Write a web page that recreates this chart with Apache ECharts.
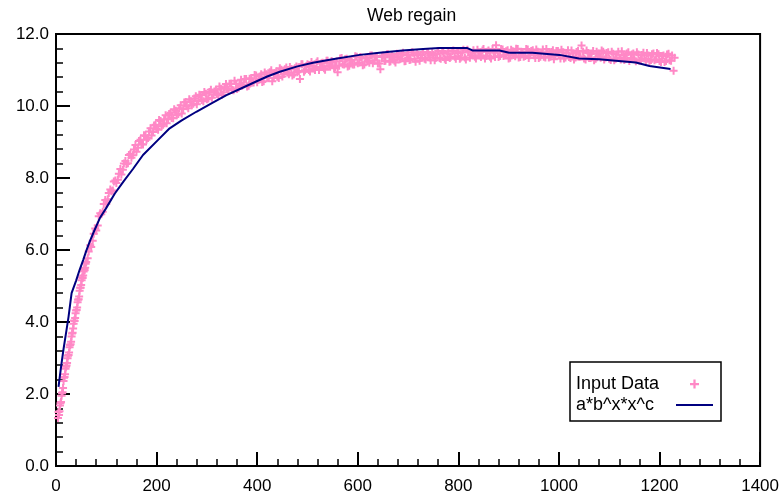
<!DOCTYPE html>
<html>
<head>
<meta charset="utf-8">
<script src="https://cdn.jsdelivr.net/npm/echarts@6/dist/echarts.min.js"></script>
<style>
  html, body { margin: 0; padding: 0; background: #fff; }
  #chart { width: 782px; height: 502px; }
</style>
</head>
<body>
<div id="chart"></div>
<script>
// Datos medidos (primera pasada)
const inputX = [
  4, 6, 8, 10, 12, 14, 16, 18, 20, 22, 24, 26, 28, 30, 32, 34, 36, 38, 40, 42, 44, 46, 48, 50, 52, 54, 56, 58, 60,
  65, 70, 75, 80, 85, 90, 95, 100, 105, 110, 115, 120, 125, 130, 135, 140, 145, 150, 155, 160, 165, 170, 175, 180,
  185, 190, 195, 200, 205, 210, 215, 220, 225, 230, 235, 240, 245, 250, 255, 260, 265, 270, 275, 280, 285, 290, 295, 300,
  305, 310, 315, 320, 325, 330, 335, 340, 345, 350,
  355, 360, 365, 370, 375, 380, 385, 390, 395, 400,
  405, 410, 415, 420, 425, 430, 435, 440, 445, 450,
  455, 460, 465, 470, 475, 480, 485, 490, 495, 500,
  505, 510, 515, 520, 525, 530, 535, 540, 545, 550,
  555, 560, 565, 570, 575, 580, 585, 590, 595, 600,
  605, 610, 615, 620, 625, 630, 635, 640, 645, 650,
  655, 660, 665, 670, 675, 680, 685, 690, 695, 700,
  705, 710, 715, 720, 725, 730, 735, 740, 745, 750,
  755, 760, 765, 770, 775, 780, 785, 790, 795, 800,
  805, 810, 815, 820, 825, 830, 835, 840, 845, 850,
  855, 860, 865, 870, 875, 880, 885, 890, 895, 900,
  905, 910, 915, 920, 925, 930, 935, 940, 945, 950,
  955, 960, 965, 970, 975, 980, 985, 990, 995, 1000,
  1005, 1010, 1015, 1020, 1025, 1030, 1035, 1040, 1045, 1050,
  1055, 1060, 1065, 1070, 1075, 1080, 1085, 1090, 1095, 1100,
  1105, 1110, 1115, 1120, 1125, 1130, 1135, 1140, 1145, 1150,
  1155, 1160, 1165, 1170, 1175, 1180, 1185, 1190, 1195, 1200,
  1205, 1210, 1215, 1220, 1225, 1228, 1230
];
const inputY = [
  1.33, 1.42, 1.68, 1.78, 2.02, 2.17, 2.45, 2.55, 2.76, 2.86, 3.06, 3.15, 3.36, 3.45, 3.68, 3.82, 4.04, 4.11, 4.32, 4.40, 4.62, 4.71, 4.95, 5.03, 5.24, 5.29, 5.47, 5.51, 5.67,
  5.96, 6.08, 6.45, 6.54, 6.94, 6.99, 7.28, 7.28, 7.58, 7.63, 7.90, 7.86, 8.12, 8.10, 8.40, 8.39, 8.64, 8.56, 8.79, 8.73, 9.03, 8.94, 9.19, 9.06,
  9.29, 9.18, 9.46, 9.37, 9.61, 9.44, 9.63, 9.52, 9.78, 9.67, 9.91, 9.74, 9.94, 9.79, 10.10, 9.99, 10.19, 10.02, 10.21, 10.05, 10.31, 10.17, 10.39, 10.19,
  10.39, 10.23, 10.40, 10.33, 10.54, 10.31, 10.52, 10.47, 10.62, 10.45,
  10.70, 10.47, 10.62, 10.56, 10.75, 10.54, 10.76, 10.68, 10.86, 10.66,
  10.82, 10.67, 10.93, 10.79, 10.94, 10.69, 10.91, 10.81, 11.05, 10.82,
  11.02, 10.93, 11.08, 10.85, 11.05, 10.94, 10.75, 11.16, 10.99, 11.16,
  10.96, 11.11, 11.00, 11.24, 11.08, 11.20, 11.01, 11.26, 11.09, 11.21,
  11.08, 10.94, 11.32, 11.16, 11.30, 11.10, 11.26, 11.15, 11.38, 11.19,
  11.36, 11.13, 11.32, 11.25, 11.40, 11.19, 11.37, 11.18, 11.02, 11.40,
  11.26, 11.44, 11.24, 11.35, 11.21, 11.44, 11.31, 11.48, 11.25, 11.42,
  11.29, 11.48, 11.23, 11.42, 11.33, 11.50, 11.29, 11.47, 11.27, 11.42,
  11.33, 11.53, 11.31, 11.47, 11.28, 11.51, 11.37, 11.54, 11.31, 11.47,
  11.35, 11.56, 11.29, 11.51, 11.41, 11.55, 11.32, 11.49, 11.36, 11.58,
  11.39, 11.54, 11.32, 11.48, 11.69, 11.36, 11.58, 11.39, 11.52, 11.32,
  11.56, 11.42, 11.59, 11.35, 11.51, 11.37, 11.58, 11.33, 11.53, 11.41,
  11.57, 11.33, 11.48, 11.37, 11.58, 11.35, 11.50, 11.30, 11.53, 11.41,
  11.56, 11.32, 11.47, 11.36, 11.54, 11.29, 11.50, 11.37, 11.68, 11.32,
  11.54, 11.33, 11.46, 11.27, 11.51, 11.38, 11.54, 11.29, 11.47, 11.31,
  11.51, 11.27, 11.43, 11.33, 11.52, 11.28, 11.46, 11.25, 11.43, 11.30,
  11.49, 11.26, 11.42, 11.32, 11.47, 11.23, 11.44, 11.27, 11.47, 11.25,
  11.39, 11.22, 11.43, 11.27, 11.40, 10.98, 11.34
];

// Datos medidos (segunda pasada, entre los anteriores)
const extraX = [
  5, 7, 9, 11, 13, 15, 17, 19, 21, 23, 25, 27, 29, 31, 33, 35, 37, 39, 41, 43, 45, 47, 49, 51, 53, 55, 57, 59,
  63, 68, 73, 78, 83, 88, 93, 98, 103, 108,
  113, 118, 123, 128, 133, 138, 143, 148, 153, 158,
  163, 168, 173, 178, 183, 188, 193, 198, 203, 208,
  213, 218, 223, 228, 233, 238, 243, 248, 253, 258,
  263, 268, 273, 278, 283, 288, 293, 298, 303, 308,
  313, 318, 323, 328, 333, 338, 343, 348, 353, 358,
  363, 368, 373, 378, 383, 388, 393, 398, 403, 408,
  413, 418, 423, 428, 433, 438, 443, 448, 453, 458,
  463, 468, 473, 478, 483, 488, 493, 498, 503, 508,
  513, 518, 523, 528, 533, 538, 543, 548, 553, 558,
  563, 568, 573, 578, 583, 588, 593, 598, 603, 608,
  613, 618, 623, 628, 633, 638, 643, 648, 653, 658,
  663, 668, 673, 678, 683, 688, 693, 698, 703, 708,
  713, 718, 723, 728, 733, 738, 743, 748, 753, 758,
  763, 768, 773, 778, 783, 788, 793, 798, 803, 808,
  813, 818, 823, 828, 833, 838, 843, 848, 853, 858,
  863, 868, 873, 878, 883, 888, 893, 898, 903, 908,
  913, 918, 923, 928, 933, 938, 943, 948, 953, 958,
  963, 968, 973, 978, 983, 988, 993, 998, 1003, 1008,
  1013, 1018, 1023, 1028, 1033, 1038, 1043, 1048, 1053, 1058,
  1063, 1068, 1073, 1078, 1083, 1088, 1093, 1098, 1103, 1108,
  1113, 1118, 1123, 1128, 1133, 1138, 1143, 1148, 1153, 1158,
  1163, 1168, 1173, 1178, 1183, 1188, 1193, 1198, 1203, 1208,
  1213, 1218, 1223
];
const extraY = [
  1.50, 1.52, 1.74, 1.95, 2.05, 2.36, 2.47, 2.70, 2.79, 2.99, 3.08, 3.30, 3.38, 3.60, 3.70, 3.95, 4.03, 4.24, 4.33, 4.55, 4.63, 4.87, 4.95, 5.16, 5.22, 5.40, 5.44, 5.62,
  5.77, 6.13, 6.26, 6.60, 6.68, 7.02, 7.06, 7.39, 7.41, 7.68,
  7.65, 7.93, 7.95, 8.25, 8.23, 8.47, 8.41, 8.67, 8.63, 8.92,
  8.84, 9.06, 8.93, 9.17, 9.11, 9.38, 9.28, 9.48, 9.34, 9.58,
  9.48, 9.74, 9.63, 9.81, 9.66, 9.87, 9.78, 10.02, 9.92, 10.11,
  9.94, 10.13, 10.06, 10.27, 10.14, 10.30, 10.13, 10.34, 10.21, 10.45,
  10.32, 10.45, 10.30, 10.48, 10.38, 10.61, 10.45, 10.62, 10.44, 10.62,
  10.51, 10.73, 10.60, 10.75, 10.56, 10.77, 10.65, 10.85, 10.73, 10.88,
  10.69, 10.88, 10.78, 10.99, 10.78, 10.96, 10.78, 11.01, 10.89, 11.07,
  10.88, 11.03, 10.88, 11.10, 10.97, 11.16, 10.95, 11.11, 11.00, 11.22,
  11.05, 11.20, 11.00, 11.19, 11.05, 11.26, 11.12, 11.25, 11.05, 11.24,
  11.12, 11.33, 11.15, 11.31, 11.12, 11.28, 11.15, 11.37, 11.21, 11.34,
  11.15, 11.34, 11.20, 11.40, 11.26, 11.39, 11.18, 11.36, 11.25, 11.44,
  11.23, 11.39, 11.26, 11.45, 11.30, 11.44, 11.24, 11.40, 11.28, 11.49,
  11.31, 11.46, 11.26, 11.43, 11.31, 11.50, 11.35, 11.48, 11.27, 11.46,
  11.33, 11.53, 11.31, 11.45, 11.33, 11.53, 11.37, 11.51, 11.31, 11.49,
  11.35, 11.56, 11.34, 11.48, 11.37, 11.56, 11.41, 11.54, 11.32, 11.51,
  11.37, 11.58, 11.36, 11.51, 11.39, 11.57, 11.42, 11.55, 11.34, 11.52,
  11.38, 11.58, 11.36, 11.50, 11.39, 11.57, 11.41, 11.55, 11.33, 11.51,
  11.37, 11.57, 11.35, 11.49, 11.37, 11.55, 11.39, 11.53, 11.32, 11.49,
  11.35, 11.55, 11.33, 11.46, 11.35, 11.53, 11.37, 11.51, 11.29, 11.47,
  11.33, 11.53, 11.31, 11.45, 11.34, 11.51, 11.35, 11.49, 11.28, 11.45,
  11.31, 11.51, 11.29, 11.42, 11.31, 11.49, 11.33, 11.46, 11.24, 11.43,
  11.28, 11.48, 11.26, 11.40, 11.28, 11.46, 11.30, 11.44, 11.22, 11.40,
  11.25, 11.45, 11.26
];

// Curva ajustada a*b^x*x^c
const fitX = [5, 10, 15, 20, 25, 31, 40, 47, 54, 60, 67, 75, 87, 100, 117, 134, 153, 173, 203, 226, 250, 279,
  310, 339, 370, 398, 420, 445, 480, 511, 550, 604, 643, 689, 730, 762, 818, 829, 882, 901, 947, 1001,
  1040, 1080, 1113, 1153, 1180, 1222];
const fitY = [2.2, 2.75, 3.25, 3.7, 4.15, 4.8, 5.15, 5.45, 5.72, 5.97, 6.23, 6.5, 6.88, 7.17, 7.57, 7.9, 8.25, 8.64, 9.06, 9.38, 9.6, 9.84,
  10.08, 10.3, 10.5, 10.68, 10.82, 10.95, 11.1, 11.2, 11.3, 11.42, 11.48, 11.54, 11.58, 11.61, 11.61, 11.54, 11.54, 11.48, 11.48, 11.42,
  11.32, 11.30, 11.26, 11.21, 11.11, 11.03];

const titleText = 'Web regain';
const seriesNames = ['Input Data', 'a*b^x*x^c'];

const FONT = 'Liberation Sans, Arial, sans-serif';
const plusPath = 'path://M3,0h2v3h3v2h-3v3h-2v-3h-3v-2h3z';
const dashPath = 'path://M0,0h37v2h-37z';

const scatterData = inputX.map((x, i) => [x, inputY[i]])
  .concat(extraX.map((x, i) => [x, extraY[i]]));

const chart = echarts.init(document.getElementById('chart'));
const option = {
  animation: false,
  backgroundColor: '#fff',
  title: {
    text: titleText,
    left: 362,
    top: 2,
    textStyle: { fontFamily: FONT, fontSize: 17.5, fontWeight: 'normal', color: '#000' }
  },
  legend: {
    orient: 'vertical',
    left: 570,
    top: 362,
    align: 'right',
    padding: [13, 8, 7, 6],
    itemGap: 3,
    itemWidth: 37,
    itemHeight: 9,
    borderColor: '#000',
    borderWidth: 1.5,
    data: [
      { name: seriesNames[0], icon: plusPath },
      { name: seriesNames[1], icon: dashPath }
    ],
    formatter: '{a|{name}}',
    textStyle: {
      fontFamily: FONT,
      fontSize: 18,
      color: '#000',
      rich: { a: { width: 95, align: 'left', fontFamily: FONT, fontSize: 18, lineHeight: 22, color: '#000' } }
    }
  },
  grid: {
    left: 56, right: 21, top: 34, bottom: 36,
    show: true,
    borderColor: '#000',
    borderWidth: 2
  },
  xAxis: {
    type: 'value',
    min: 0, max: 1400, interval: 200,
    axisLine: { lineStyle: { color: '#000', width: 2 } },
    axisTick: { inside: true, length: 14, lineStyle: { color: '#000', width: 2 } },
    minorTick: { show: true, splitNumber: 5, length: 7, lineStyle: { color: '#000', width: 1.5 } },
    splitLine: { show: false },
    axisLabel: { margin: 12, fontFamily: FONT, fontSize: 17, color: '#000', formatter: v => String(v) }
  },
  yAxis: {
    type: 'value',
    min: 0, max: 12, interval: 2,
    axisLine: { lineStyle: { color: '#000', width: 2 } },
    axisTick: { inside: true, length: 14, lineStyle: { color: '#000', width: 2 } },
    minorTick: { show: true, splitNumber: 5, length: 7, lineStyle: { color: '#000', width: 1.5 } },
    splitLine: { show: false },
    axisLabel: {
      margin: 7, fontFamily: FONT, fontSize: 17, color: '#000',
      formatter: v => v.toFixed(1)
    }
  },
  series: [
    {
      name: seriesNames[0],
      type: 'scatter',
      symbol: plusPath,
      symbolSize: 8,
      itemStyle: { color: '#ff88c6', opacity: 1 },
      data: scatterData
    },
    {
      name: seriesNames[1],
      type: 'line',
      symbol: 'none',
      showSymbol: false,
      lineStyle: { color: '#000080', width: 2 },
      itemStyle: { color: '#000080' },
      data: fitX.map((x, i) => [x, fitY[i]])
    }
  ]
};
chart.setOption(option);
</script>
</body>
</html>
